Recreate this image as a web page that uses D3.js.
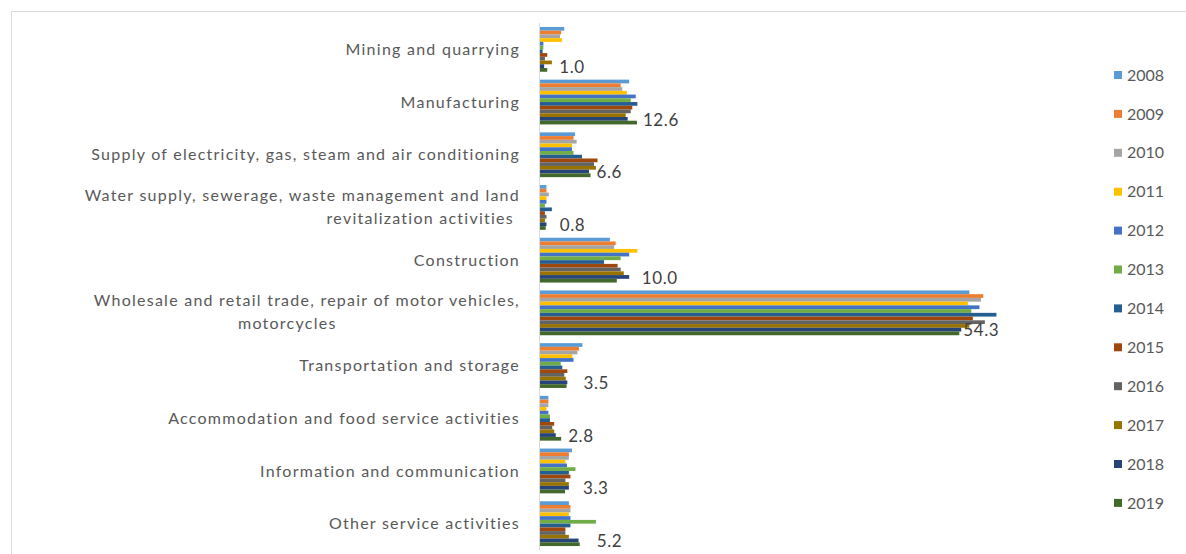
<!DOCTYPE html>
<html>
<head>
<meta charset="utf-8">
<script src="https://cdn.jsdelivr.net/npm/d3@7"></script>
<style>
  body { margin: 0; background: #fff; }
  svg { display: block; font-family: Lato, "Open Sans", sans-serif; }
</style>
</head>
<body>
<svg width="1186" height="554"></svg>
<script>
// share of each activity, per year (%)
var categories = [
    "Mining and quarrying",
    "Manufacturing",
    "Supply of electricity, gas, steam and air conditioning",
    "Water supply, sewerage, waste management and land revitalization activities",
    "Construction",
    "Wholesale and retail trade, repair of motor vehicles, motorcycles",
    "Transportation and storage",
    "Accommodation and food service activities",
    "Information and communication",
    "Other service activities"
];

var years = ["2008","2009","2010","2011","2012","2013","2014","2015","2016","2017","2018","2019"];

var colors = ["#5B9BD5","#ED7D31","#A5A5A5","#FFC000","#4472C4","#70AD47",
              "#255E91","#9E480E","#636363","#997300","#264478","#43682B"];

// one row per category, one value per year
var mining        = [3.2, 2.8, 2.65, 2.9, 0.5, 0.5, 0.4, 1.0, 0.7, 1.6, 0.6, 1.0];
var manufacturing = [11.6, 10.5, 10.7, 11.3, 12.45, 11.8, 12.66, 12.0, 11.8, 11.15, 11.4, 12.6];
var electricity   = [4.6, 4.4, 4.8, 4.2, 4.2, 4.4, 5.5, 7.5, 7.05, 7.3, 6.4, 6.6];
var water         = [0.9, 0.9, 1.2, 0.9, 0.9, 0.7, 1.6, 0.7, 0.9, 0.7, 0.9, 0.8];
var construction  = [9.1, 9.85, 9.65, 12.65, 11.6, 10.5, 8.35, 10.1, 10.5, 10.9, 11.6, 10.0];
var wholesale     = [55.6, 57.4, 57.1, 55.4, 56.9, 55.85, 59.1, 56.05, 57.6, 55.6, 54.55, 54.3];
var transport     = [5.55, 5.1, 4.9, 4.25, 4.4, 2.75, 2.95, 3.6, 3.2, 3.4, 3.6, 3.5];
var accommodation = [1.15, 1.15, 1.15, 0.9, 1.15, 1.35, 1.35, 1.9, 1.65, 1.9, 2.1, 2.8];
var information   = [4.2, 3.8, 3.8, 3.35, 3.55, 4.65, 3.8, 4.0, 3.35, 3.8, 3.8, 3.3];
var otherServices = [3.8, 4.0, 4.0, 3.8, 4.0, 7.3, 4.0, 3.35, 3.35, 3.8, 5.05, 5.2];

var values = [mining, manufacturing, electricity, water, construction,
              wholesale, transport, accommodation, information, otherServices];

var svg = d3.select("svg");

// outer chart frame
svg.append("rect")
    .attr("x", 11.5).attr("y", 11.5)
    .attr("width", 1300).attr("height", 700)
    .attr("fill", "none")
    .attr("stroke", "#d9d9d9");

var x = d3.scaleLinear()
    .domain([0, 60])
    .range([539.5, 1003.4]);

var y0 = d3.scaleBand()
    .domain(categories)
    .range([23, 550])
    .paddingInner(0.15)
    .paddingOuter(0.075);

var y1 = d3.scaleBand()
    .domain(years)
    .range([0, y0.bandwidth()]);

var groups = svg.append("g")
    .selectAll("g")
    .data(categories)
    .enter().append("g")
    .attr("transform", function(d) { return "translate(0," + y0(d) + ")"; });

groups.selectAll("rect")
    .data(function(d, i) {
        return years.map(function(yr, j) { return {year: yr, value: values[i][j], color: colors[j]}; });
    })
    .enter().append("rect")
    .attr("x", x(0))
    .attr("y", function(d) { return y1(d.year); })
    .attr("width", function(d) { return x(d.value) - x(0); })
    .attr("height", y1.bandwidth())
    .attr("fill", function(d) { return d.color; });

// value label on the last year only (labels were dragged a bit in the original)
var nudge = [6, 0, 0, 8, 19, -2, 11, 1, 12, 11];

groups.append("text")
    .attr("x", function(d, i) { return x(values[i][11]) + 6 + nudge[i]; })
    .attr("y", y1("2019") + y1.bandwidth() / 2 - 3)
    .attr("dy", "0.35em")
    .attr("font-size", "17px")
    .attr("letter-spacing", "0.6px")
    .attr("fill", "#404040")
    .text(function(d, i) { return values[i][11].toFixed(1); });

// category axis line
svg.append("line")
    .attr("x1", x(0)).attr("x2", x(0))
    .attr("y1", 23).attr("y2", 550)
    .attr("stroke", "#d9d9d9");

// category labels, long ones wrapped in two lines
var wraps = {
    3: ["Water supply, sewerage, waste management and land", "revitalization activities"],
    5: ["Wholesale and retail trade, repair of motor vehicles,", "motorcycles"]
};

var labels = svg.append("g")
    .attr("font-size", "16px")
    .attr("letter-spacing", "1.25px")
    .attr("fill", "#595959");

categories.forEach(function(c, i) {
    var cy = y0(c) + y0.bandwidth() / 2;
    if (wraps[i]) {
        labels.append("text")
            .attr("x", 520).attr("y", cy - 12)
            .attr("dy", "0.35em")
            .attr("text-anchor", "end")
            .text(wraps[i][0]);
        var second = labels.append("text")
            .attr("y", cy + 11)
            .attr("dy", "0.35em")
            .text(wraps[i][1]);
        if (i == 3) second.attr("x", 514).attr("text-anchor", "end");
        else second.attr("x", 238);
    } else {
        labels.append("text")
            .attr("x", 520).attr("y", cy)
            .attr("dy", "0.35em")
            .attr("text-anchor", "end")
            .text(c);
    }
});

// legend
var legend = svg.append("g")
    .selectAll("g")
    .data(years)
    .enter().append("g")
    .attr("transform", function(d, i) { return "translate(1114," + (75 + i * 38.9) + ")"; });

legend.append("rect")
    .attr("x", 0).attr("y", -4)
    .attr("width", 8).attr("height", 8)
    .attr("fill", function(d, i) { return colors[i]; });

legend.append("text")
    .attr("x", 13)
    .attr("dy", "0.35em")
    .attr("font-size", "16px")
    .attr("fill", "#595959")
    .text(function(d) { return d; });
</script>
</body>
</html>
